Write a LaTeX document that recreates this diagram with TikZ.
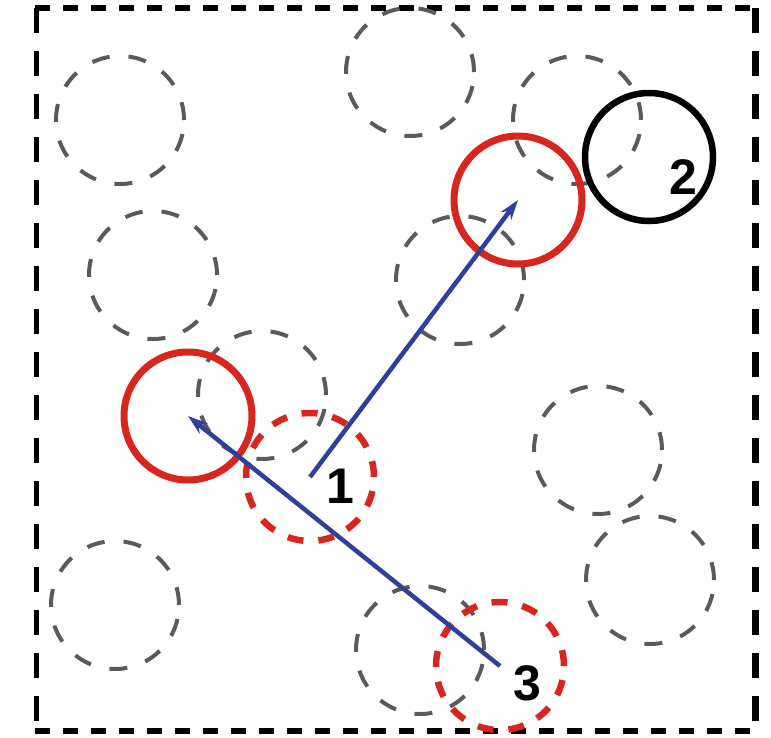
\documentclass[tikz,border=0pt]{standalone}
\usepackage{fontspec}
\setmainfont{Liberation Sans}
\usetikzlibrary{arrows.meta}
\definecolor{ringgray}{HTML}{5A5A5A}
\definecolor{hitred}{HTML}{D8261E}
\definecolor{jumpblue}{HTML}{2E3F9C}
\tikzset{
  cell/.style={circle,minimum size=128pt,inner sep=0pt},
  free/.style={cell,draw=ringgray,line width=4pt,dash pattern=on 18pt off 19pt},
  taken/.style={cell,draw=hitred,line width=7pt},
  probe/.style={cell,draw=hitred,line width=6.5pt,dash pattern=on 16pt off 15pt},
  goal/.style={cell,draw=black,line width=6.5pt},
  tag/.style={font=\fontsize{50}{50}\selectfont\bfseries},
  jump/.style={-{Stealth[length=20pt,width=13pt]},jumpblue,line width=4.5pt},
}

\begin{document}
\begin{tikzpicture}[x=1pt,y=-1pt]
\useasboundingbox (0,0) rectangle (771,737);
% frame
\draw[line width=5.5pt,dash pattern=on 15pt off 13pt] (35,8) -- (757,8);
\draw[line width=5.5pt,dash pattern=on 15pt off 13pt] (35,731) -- (757,731);
\draw[line width=5pt,dash pattern=on 25pt off 18pt] (36,8) -- (36,731);
\draw[line width=7pt,dash pattern=on 25pt off 18pt] (755,8) -- (755,731);
% free cells
\node[free] (f1) at (120,120) {};
\node[free] (f2) at (410,72) {};
\node[free] (f3) at (577,120) {};
\node[free] (f4) at (153,275) {};
\node[free] (f5) at (460,280) {};
\node[free] (f6) at (262,395) {};
\node[free] (f7) at (598,450) {};
\node[free] (f8) at (650,580) {};
\node[free] (f9) at (115,605) {};
\node[free] (f10) at (420,650) {};
% occupied and probed cells
\node[taken] (left) at (188,416) {};
\node[taken] (top) at (518,200) {};
\node[goal] (two) at (649,157) {};
\node[probe] (one) at (310,477) {};
\node[probe] (three) at (500,666) {};
\node[tag] at (340,486) {1};
\node[tag] at (683,177) {2};
\node[tag] at (527,683) {3};
\draw[jump] (one.center) -- (top.center);
\draw[jump] (three.center) -- (left.center);
\end{tikzpicture}
\end{document}
